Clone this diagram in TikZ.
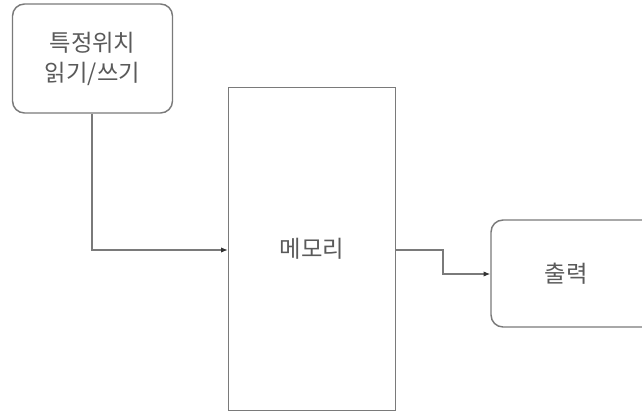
\documentclass[tikz,border=0pt]{standalone}
\usepackage{fontspec}
\setmainfont{Noto Sans CJK KR}
\usetikzlibrary{arrows.meta}
\definecolor{linegray}{HTML}{7A7A7A}
\definecolor{textgray}{HTML}{5A5A5A}
\tikzset{
  box/.style={draw=linegray, line width=1.1pt, fill=white, text=textgray, font=\fontsize{17.5}{22.5}\selectfont, align=center, inner sep=0pt},
  rbox/.style={box, rounded corners=9pt},
  conn/.style={draw=linegray, line width=0.9pt, -{Latex[length=5pt,width=4pt,color=black!80]}}
}
\begin{document}
\begin{tikzpicture}[x=0.75pt,y=-0.75pt]
\useasboundingbox (0,0) rectangle (642,414);
\clip (0,0) rectangle (642,414);
\node[rbox, minimum width=160*0.75pt, minimum height=109*0.75pt] (rw) at (92.5,58.5) {특정위치\\읽기/쓰기};
\node[box, minimum width=167*0.75pt, minimum height=323*0.75pt] (mem) at (312,249) {메모리};
\node[rbox, minimum width=180*0.75pt, minimum height=107*0.75pt] (out) at (581,273.5) {\hspace*{-22pt}출력};
\coordinate (m1) at (92,250);
\coordinate (m2) at (443,250);
\coordinate (m3) at (443,274);
\draw[conn] (rw.south -| m1) |- (mem.west |- m1);
\draw[conn] (mem.east |- m2) -- (m2) -- (m3) -- (out.west |- m3);
\end{tikzpicture}
\end{document}
